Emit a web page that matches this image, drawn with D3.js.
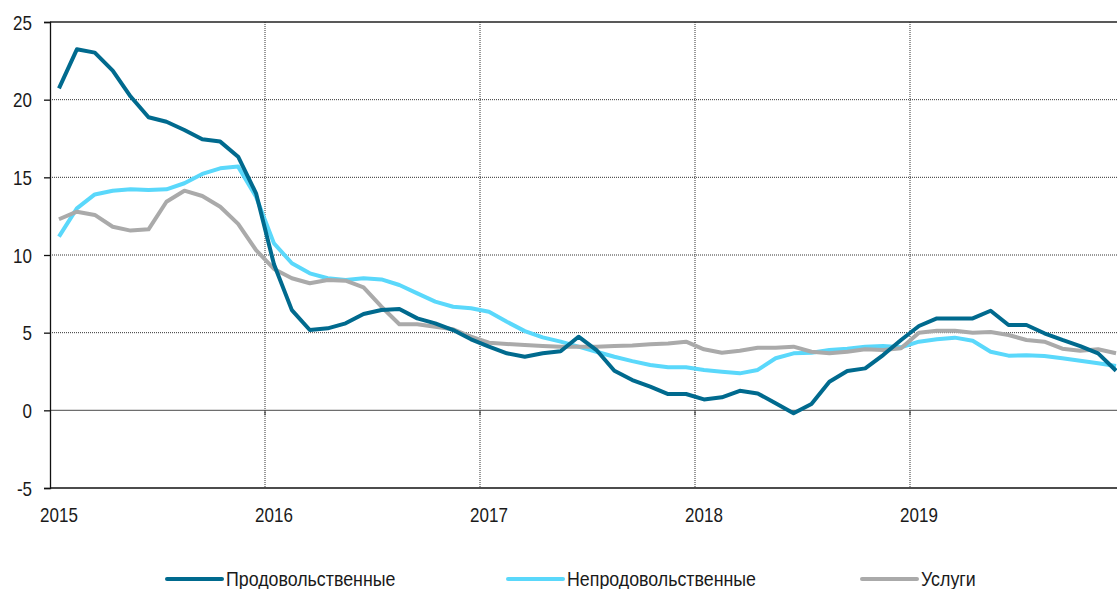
<!DOCTYPE html>
<html>
<head>
<meta charset="utf-8">
<script src="https://cdn.jsdelivr.net/npm/d3@7"></script>
<style>
html,body{margin:0;padding:0;background:#fff;overflow:hidden;}
svg{display:block;}
text{font-family:"Liberation Sans","Arial",sans-serif;fill:#1a1a1a;}
</style>
</head>
<body>
<svg id="chart" width="1117" height="589"></svg>
<script>
const years = ["2015","2016","2017","2018","2019"];
const yTicks = [-5,0,5,10,15,20,25];
const seriesNames = ["Продовольственные","Непродовольственные","Услуги"];
const seriesColors = ["#006a8e","#5ad8fb","#aaaaaa"];

const food = [20.73,23.24,23.03,21.87,20.2,18.87,18.58,18.05,17.45,17.3,16.33,13.97,
  9.4,6.45,5.17,5.28,5.6,6.2,6.46,6.52,5.92,5.6,5.17,4.57,
  4.1,3.67,3.45,3.67,3.8,4.74,3.88,2.55,1.95,1.52,1.05,1.05,
  0.7,0.84,1.26,1.09,0.45,-0.19,0.41,1.84,2.53,2.7,3.56,4.53,
  5.43,5.92,5.92,5.92,6.41,5.49,5.49,4.96,4.53,4.14,3.67,2.55];
const nonFood = [11.18,13.0,13.9,14.14,14.23,14.19,14.23,14.62,15.22,15.58,15.69,13.75,
  10.75,9.47,8.82,8.5,8.39,8.5,8.43,8.07,7.53,7.0,6.67,6.57,
  6.35,5.7,5.1,4.7,4.42,4.1,3.77,3.45,3.17,2.92,2.77,2.77,
  2.6,2.49,2.38,2.6,3.35,3.67,3.71,3.88,3.97,4.1,4.14,4.06,
  4.42,4.57,4.68,4.48,3.77,3.52,3.54,3.5,3.35,3.19,3.03,2.85];
const services = [12.3,12.79,12.58,11.82,11.57,11.65,13.43,14.14,13.8,13.11,12.0,10.32,
  9.1,8.5,8.18,8.39,8.35,7.92,6.67,5.54,5.54,5.38,5.22,4.74,
  4.35,4.27,4.2,4.14,4.1,4.1,4.1,4.14,4.18,4.25,4.31,4.42,
  3.93,3.71,3.84,4.03,4.03,4.1,3.77,3.67,3.77,3.93,3.88,3.99,
  5.0,5.13,5.13,5.0,5.04,4.85,4.53,4.42,3.97,3.84,3.93,3.67];
const allSeries = [food, nonFood, services];

const svg = d3.select("#chart");
const pLeft = 50, pRight = 1125, pTop = 22, pBottom = 488;
const x = d3.scaleLinear().domain([0,60]).range([pLeft,pRight]);
const y = d3.scaleLinear().domain([-5,25]).range([pBottom,pTop]);
const narrow = 0.85;

const g = svg.append("g");

g.selectAll("line.hgrid").data(yTicks.filter(v => v>-5 && v<25 && v!==0)).enter()
  .append("line").attr("class","hgrid")
  .attr("x1",pLeft).attr("x2",pRight)
  .attr("y1",d=>y(d)).attr("y2",d=>y(d))
  .attr("stroke","#333").attr("stroke-width",1).attr("stroke-dasharray","1,1");
g.selectAll("line.vgrid").data([12,24,36,48]).enter()
  .append("line").attr("class","vgrid")
  .attr("x1",d=>x(d)).attr("x2",d=>x(d))
  .attr("y1",pTop).attr("y2",pBottom)
  .attr("stroke","#333").attr("stroke-width",1).attr("stroke-dasharray","1,1");
g.append("line").attr("x1",pLeft).attr("x2",pRight).attr("y1",y(25)).attr("y2",y(25))
  .attr("stroke","#222").attr("stroke-width",1.3);
g.append("line").attr("x1",pLeft).attr("x2",pRight).attr("y1",y(0)).attr("y2",y(0))
  .attr("stroke","#6e6e6e").attr("stroke-width",1.3);
g.selectAll("line.ztick").data([12,24,36,48]).enter()
  .append("line").attr("class","ztick")
  .attr("x1",d=>x(d)).attr("x2",d=>x(d))
  .attr("y1",y(0)).attr("y2",y(0)+5)
  .attr("stroke","#222").attr("stroke-width",1);

// y axis
const yAxis = d3.axisLeft(y).tickValues(yTicks).tickSize(6).tickPadding(12).tickFormat(d => String(d));
const ya = svg.append("g").attr("transform",`translate(${pLeft},0)`).call(yAxis);
ya.select(".domain").attr("stroke","#111").attr("stroke-width",1.3);
ya.selectAll(".tick line").attr("stroke","#111").attr("stroke-width",1.3);
ya.selectAll(".tick text").style("font-size","20px").attr("fill","#1a1a1a")
  .style("font-family","'Liberation Sans',Arial,sans-serif")
  .attr("x",null).attr("dy",null).attr("y",7)
  .attr("transform",`translate(-18,0) scale(${narrow},1)`);

svg.append("line").attr("x1",pLeft).attr("x2",pRight).attr("y1",pBottom).attr("y2",pBottom)
  .attr("stroke","#111").attr("stroke-width",1.3);
svg.selectAll("text.xlab").data(years).enter().append("text").attr("class","xlab")
  .attr("transform",(d,i)=>`translate(${x(i*12+0.5)},522) scale(${narrow},1)`)
  .attr("text-anchor","middle").style("font-size","20px").text(d=>d);

const line = d3.line().x((d,i)=>x(i+0.5)).y(d=>y(d));
svg.selectAll("path.series").data(allSeries).enter().append("path").attr("class","series")
  .attr("d",line).attr("fill","none")
  .attr("stroke",(d,i)=>seriesColors[i]).attr("stroke-width",4)
  .attr("stroke-linejoin","round");
svg.selectAll("path.series").filter((d,i)=>i===0).raise();

const legX = [167,508,862];
const leg = svg.selectAll("g.leg").data(seriesNames).enter().append("g").attr("class","leg")
  .attr("transform",(d,i)=>`translate(${legX[i]},579)`);
leg.append("line").attr("x1",0).attr("x2",55).attr("y1",0).attr("y2",0)
  .attr("stroke",(d,i)=>seriesColors[i]).attr("stroke-width",4).attr("stroke-linecap","round");
leg.append("text").attr("transform",`translate(59,7) scale(0.89,1)`).style("font-size","20px").text(d=>d);
</script>
</body>
</html>
